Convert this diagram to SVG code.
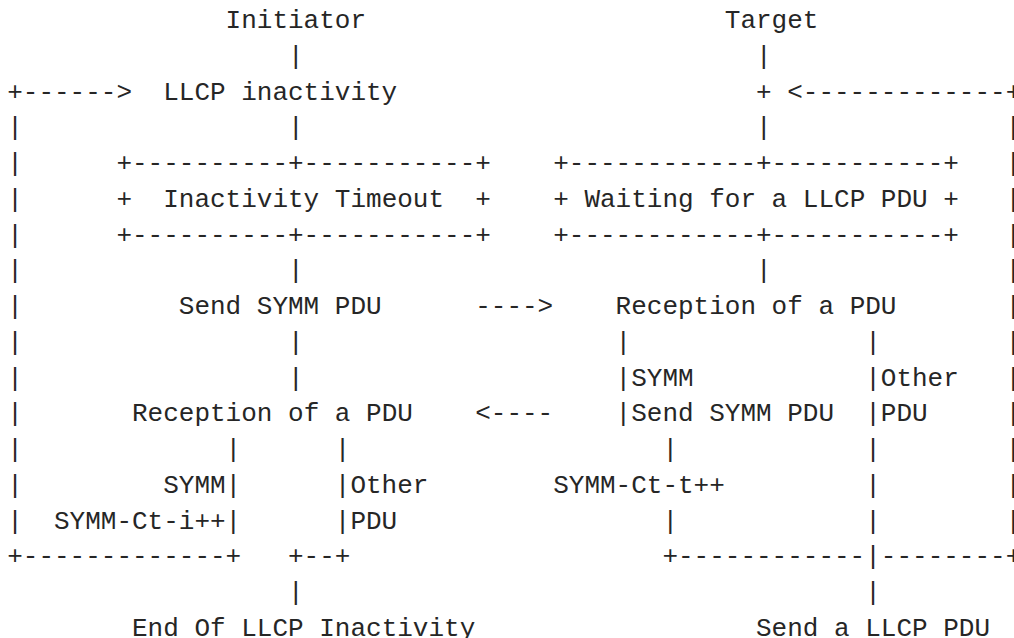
<svg xmlns="http://www.w3.org/2000/svg" width="1014" height="638" viewBox="0 0 1014 638" xml:space="preserve">
<style>
  /* monospace grid: column c starts at x = 7.2 + 15.6*c, row r baseline at y = 28 + 35.75*(r-1) */
  text { font-family: "Liberation Mono", "DejaVu Sans Mono", monospace; font-size: 26px; fill: #262626; white-space: pre; }
</style>
<rect width="1014" height="638" fill="#ffffff"/>

<!-- nodes -->
<g id="initiator"><text x="225.6" y="28">Initiator</text></g>
<g id="target"><text x="724.8" y="28">Target</text></g>
<g id="llcp-inactivity"><text x="163.2" y="99.5">LLCP inactivity</text></g>
<g id="inactivity-timeout">
  <text x="116.4" y="171">+----------+-----------+</text>
  <text x="116.4" y="206.75">+  Inactivity Timeout  +</text>
  <text x="116.4" y="242.5">+----------+-----------+</text>
</g>
<g id="waiting-for-pdu">
  <text x="553.2" y="171">+------------+-----------+</text>
  <text x="553.2" y="206.75">+ Waiting for a LLCP PDU +</text>
  <text x="553.2" y="242.5">+------------+-----------+</text>
</g>
<g id="initiator-send-symm"><text x="178.8" y="314">Send SYMM PDU</text></g>
<g id="target-reception"><text x="615.6" y="314">Reception of a PDU</text></g>
<g id="initiator-reception"><text x="132" y="421.25">Reception of a PDU</text></g>
<g id="target-symm-counter"><text x="553.2" y="492.75">SYMM-Ct-t++</text></g>
<g id="end-of-inactivity"><text x="132" y="635.75">End Of LLCP Inactivity</text></g>
<g id="send-llcp-pdu"><text x="756" y="635.75">Send a LLCP PDU</text></g>

<!-- branch labels -->
<g id="labels">
  <text x="631.2" y="385.5">SYMM</text>
  <text x="631.2" y="421.25">Send SYMM PDU</text>
  <text x="880.8" y="385.5">Other</text>
  <text x="880.8" y="421.25">PDU</text>
  <text x="163.2" y="492.75">SYMM</text>
  <text x="54" y="528.5">SYMM-Ct-i++</text>
  <text x="350.4" y="492.75">Other</text>
  <text x="350.4" y="528.5">PDU</text>
</g>

<!-- connectors -->
<g id="connectors">
  <!-- row 2 -->
  <text x="288" y="63.75">|</text>
  <text x="756" y="63.75">|</text>
  <!-- row 3 -->
  <text x="7.2" y="99.5">+------&gt;</text>
  <text x="756" y="99.5">+ &lt;-------------+</text>
  <!-- row 4 -->
  <text x="7.2" y="135.25">|</text>
  <text x="288" y="135.25">|</text>
  <text x="756" y="135.25">|</text>
  <text x="1005.6" y="135.25">|</text>
  <!-- rows 5-7 -->
  <text x="7.2" y="171">|</text>
  <text x="1005.6" y="171">|</text>
  <text x="7.2" y="206.75">|</text>
  <text x="1005.6" y="206.75">|</text>
  <text x="7.2" y="242.5">|</text>
  <text x="1005.6" y="242.5">|</text>
  <!-- row 8 -->
  <text x="7.2" y="278.25">|</text>
  <text x="288" y="278.25">|</text>
  <text x="756" y="278.25">|</text>
  <text x="1005.6" y="278.25">|</text>
  <!-- row 9 -->
  <text x="7.2" y="314">|</text>
  <text x="475.2" y="314">----&gt;</text>
  <text x="1005.6" y="314">|</text>
  <!-- row 10 -->
  <text x="7.2" y="349.75">|</text>
  <text x="288" y="349.75">|</text>
  <text x="615.6" y="349.75">|</text>
  <text x="865.2" y="349.75">|</text>
  <text x="1005.6" y="349.75">|</text>
  <!-- row 11 -->
  <text x="7.2" y="385.5">|</text>
  <text x="288" y="385.5">|</text>
  <text x="615.6" y="385.5">|</text>
  <text x="865.2" y="385.5">|</text>
  <text x="1005.6" y="385.5">|</text>
  <!-- row 12 -->
  <text x="7.2" y="421.25">|</text>
  <text x="475.2" y="421.25">&lt;----</text>
  <text x="615.6" y="421.25">|</text>
  <text x="865.2" y="421.25">|</text>
  <text x="1005.6" y="421.25">|</text>
  <!-- row 13 -->
  <text x="7.2" y="457">|</text>
  <text x="225.6" y="457">|</text>
  <text x="334.8" y="457">|</text>
  <text x="662.4" y="457">|</text>
  <text x="865.2" y="457">|</text>
  <text x="1005.6" y="457">|</text>
  <!-- row 14 -->
  <text x="7.2" y="492.75">|</text>
  <text x="225.6" y="492.75">|</text>
  <text x="334.8" y="492.75">|</text>
  <text x="865.2" y="492.75">|</text>
  <text x="1005.6" y="492.75">|</text>
  <!-- row 15 -->
  <text x="7.2" y="528.5">|</text>
  <text x="225.6" y="528.5">|</text>
  <text x="334.8" y="528.5">|</text>
  <text x="662.4" y="528.5">|</text>
  <text x="865.2" y="528.5">|</text>
  <text x="1005.6" y="528.5">|</text>
  <!-- row 16 -->
  <text x="7.2" y="564.25">+-------------+</text>
  <text x="288" y="564.25">+--+</text>
  <text x="662.4" y="564.25">+------------|--------+</text>
  <!-- row 17 -->
  <text x="288" y="600">|</text>
  <text x="865.2" y="600">|</text>
</g>
</svg>
